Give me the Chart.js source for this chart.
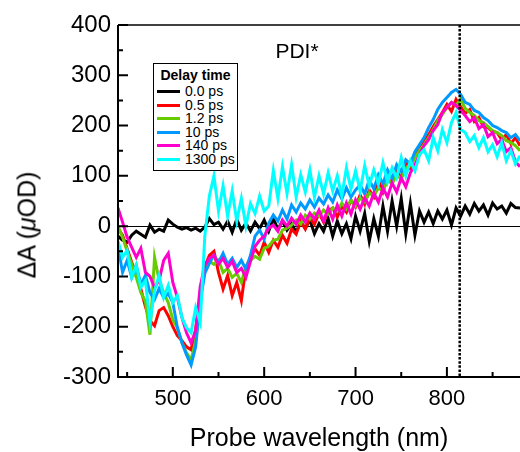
<!DOCTYPE html>
<html><head><meta charset="utf-8">
<script src="https://cdn.jsdelivr.net/npm/chart.js@4.4.0/dist/chart.umd.min.js"></script>
<style>
html,body{margin:0;padding:0;background:#fff;}
#wrap{position:relative;width:520px;height:452px;overflow:hidden;font-family:"Liberation Sans",Arial,Helvetica,sans-serif;color:#000;}
#c{position:absolute;left:0;top:0;}
.ytitle{position:absolute;left:27px;top:225px;transform:translate(-50%,-50%) rotate(-90deg);font-size:25px;white-space:nowrap;}
.xtitle{position:absolute;left:319px;top:437px;transform:translate(-50%,-50%);font-size:25px;white-space:nowrap;}
.ptitle{position:absolute;left:297px;top:51px;transform:translate(-50%,-50%);font-size:21px;white-space:nowrap;}
#legend{position:absolute;left:153px;top:63px;width:83px;height:106px;border:1px solid #000;background:#fff;}
#legend .lt{position:absolute;left:0;top:3px;width:100%;text-align:center;font-weight:bold;font-size:14px;line-height:16px;}
#legend .rows{position:absolute;left:3px;top:21px;}
#legend .row{display:flex;align-items:center;height:13.5px;font-size:14px;line-height:13.5px;}
#legend .sw{display:inline-block;width:23px;height:3px;margin-right:5px;}
</style>
</head><body>
<div id="wrap">
<canvas id="c" width="520" height="452"></canvas>
<div class="ytitle">ΔA (<i>μ</i>OD)</div>
<div class="xtitle">Probe wavelength (nm)</div>
<div class="ptitle">PDI*</div>
<div id="legend"><div class="lt">Delay time</div><div class="rows" id="rows"></div></div>
</div>
<script>
// ---- data ----
const wavelength = [
 440,445,450,455,460,465,470,475,480,485,
 490,495,500,505,510,515,520,525,530,535,
 540,545,550,555,560,565,570,575,580,585,
 590,595,600,605,610,615,620,625,630,635,
 640,645,650,655,660,665,670,675,680,685,
 690,695,700,705,710,715,720,725,730,735,
 740,745,750,755,760,765,770,775,780,785,
 790,795,800,805,810,815,820,825,830,835,
 840,845,850,855,860,865,870,875,880];
const seriesNames = ['0.0 ps','0.5 ps','1.2 ps','10 ps','140 ps','1300 ps'];
const dA_0p0ps = [
 -20,-28,-32,-18,-10,-16,-22,2,-12,-6,
 -10,12,4,-2,-6,-3,-8,-4,-10,-2,
 15,3,8,-6,10,-12,14,-8,6,-10,
 8,-5,12,-10,15,-6,10,-8,5,-12,
 8,-4,12,-15,5,-10,15,-20,10,-15,
 5,-25,20,-10,25,-30,15,-20,40,-10,
 50,0,55,-15,45,-18,30,8,28,5,
 30,14,32,2,36,20,40,24,45,30,
 42,22,46,34,40,26,45,37,36];
const dA_0p5ps = [
 -5,-18,-45,-72,-95,-125,-160,-188,-198,-168,
 -162,-178,-200,-218,-228,-240,-246,-205,-140,-80,
 -58,-50,-92,-125,-98,-138,-112,-148,-82,-62,
 -45,-58,-32,-52,-28,-42,-18,-34,-6,-16,
 10,-6,16,4,26,8,30,36,18,40,
 28,52,38,62,44,72,58,92,68,96,
 84,112,94,128,114,142,152,168,182,198,
 212,226,242,228,252,238,224,232,208,216,
 198,196,188,186,172,182,164,176,160];
const dA_1p2ps = [
 0,-22,-50,-76,-102,-132,-150,-216,-62,-108,
 -132,-152,-186,-202,-232,-252,-266,-228,-138,-86,
 -70,-76,-68,-92,-84,-102,-94,-112,-80,-68,
 -60,-66,-44,-40,-28,-26,-8,-4,2,12,
 4,22,14,26,20,32,24,36,30,46,
 34,52,40,56,48,66,60,76,70,92,
 84,102,94,116,120,136,150,162,176,192,
 210,222,236,246,240,252,234,226,220,210,
 206,198,190,186,180,170,166,160,150];
const dA_10ps = [
 -40,-92,-68,-102,-78,-116,-98,-132,-146,-124,
 -142,-134,-152,-202,-232,-256,-276,-240,-150,-94,
 -74,-58,-72,-54,-76,-64,-82,-68,-86,-58,
 -20,-8,-26,6,22,10,32,14,42,28,
 46,34,52,38,56,44,62,48,72,54,
 76,58,72,82,64,92,74,102,84,112,
 94,122,108,132,124,148,162,176,196,212,
 232,246,256,266,272,262,246,242,230,226,
 216,210,200,196,190,186,176,182,170];
const dA_140ps = [
 36,8,-22,-42,-62,-44,-92,-100,-122,-108,
 -68,-54,-112,-142,-182,-212,-232,-208,-120,-78,
 -64,-58,-76,-64,-82,-70,-92,-84,-102,-70,
 -40,-28,-20,-4,2,-10,12,0,16,4,
 22,8,26,14,32,10,36,14,42,20,
 46,24,52,34,56,40,66,48,76,58,
 86,68,96,78,106,122,142,160,172,190,
 202,226,236,246,240,230,220,208,216,194,
 202,178,186,164,172,148,156,128,118];
const dA_1300ps = [
 -30,-62,-48,-102,-78,-122,-108,-192,-128,-98,
 -142,-118,-152,-138,-182,-202,-212,-162,-192,-20,
 60,100,30,80,20,70,10,55,0,45,
 25,60,30,40,110,55,118,65,122,58,
 102,68,112,58,100,64,106,70,100,60,
 116,74,110,70,120,80,112,84,126,88,
 116,96,136,100,130,110,142,152,130,176,
 150,192,166,206,226,192,186,168,180,156,
 176,148,162,138,166,130,150,124,140];
const xMajorTicks = [500,600,700,800];
const xMinorTicks = [450,550,650,750,850];
const yMajorTicks = [-300,-200,-100,0,100,200,300,400];
const yMinorTicks = [-250,-150,-50,50,150,250,350];
const markerWavelength = 814;

// ---- styles ----
const seriesValues = [dA_0p0ps,dA_0p5ps,dA_1p2ps,dA_10ps,dA_140ps,dA_1300ps];
const seriesColors = ['#000000','#ff0000','#66cc00','#0099ff','#ff00cc','#00ffff'];
const FONT = '"Liberation Sans", Arial, Helvetica, sans-serif';

// legend (HTML)
const rows = document.getElementById('rows');
seriesNames.forEach((n,i)=>{
  const r = document.createElement('div'); r.className='row';
  const s = document.createElement('span'); s.className='sw'; s.style.background=seriesColors[i];
  const t = document.createElement('span'); t.textContent=n;
  r.appendChild(s); r.appendChild(t); rows.appendChild(r);
});

const datasets = seriesNames.map((n,i)=>({
  label:n,
  data: wavelength.map((w,k)=>({x:w,y:seriesValues[i][k]})),
  borderColor: seriesColors[i],
  backgroundColor: seriesColors[i],
  borderWidth: 3,
  pointRadius: 0,
  tension: 0,
  fill: false,
  order: seriesNames.length - 1 - i
}));

const axesPlugin = {
  id:'axesFrame',
  beforeDatasetsDraw(chart){
    const {ctx, chartArea:a, scales:{y}} = chart;
    const y0 = Math.round(y.getPixelForValue(0)) + 0.5;
    ctx.save(); ctx.strokeStyle='#000'; ctx.lineWidth=1;
    ctx.beginPath(); ctx.moveTo(a.left,y0); ctx.lineTo(a.right,y0); ctx.stroke();
    ctx.restore();
  },
  afterDatasetsDraw(chart){
    const {ctx, chartArea:a, scales:{x,y}} = chart;
    ctx.save();
    ctx.strokeStyle='#000';
    const xm = x.getPixelForValue(markerWavelength);
    ctx.lineWidth=2.5; ctx.setLineDash([2.5,1.6]);
    ctx.beginPath(); ctx.moveTo(xm,a.top); ctx.lineTo(xm,a.bottom); ctx.stroke();
    ctx.setLineDash([]);
    ctx.lineWidth=2;
    ctx.beginPath();
    ctx.moveTo(a.left,a.top); ctx.lineTo(a.left,a.bottom); ctx.lineTo(a.right,a.bottom);
    ctx.stroke();
    ctx.lineWidth=1.5;
    ctx.beginPath(); ctx.moveTo(a.left,a.top); ctx.lineTo(a.right,a.top); ctx.stroke();
    ctx.lineWidth=2;
    ctx.beginPath();
    xMajorTicks.forEach(v=>{const p=x.getPixelForValue(v); ctx.moveTo(p,a.bottom); ctx.lineTo(p,a.bottom-10);});
    xMinorTicks.forEach(v=>{const p=x.getPixelForValue(v); ctx.moveTo(p,a.bottom); ctx.lineTo(p,a.bottom-5);});
    yMajorTicks.forEach(v=>{const p=y.getPixelForValue(v); ctx.moveTo(a.left,p); ctx.lineTo(a.left+10,p);});
    yMinorTicks.forEach(v=>{const p=y.getPixelForValue(v); ctx.moveTo(a.left,p); ctx.lineTo(a.left+5,p);});
    ctx.stroke();
    ctx.restore();
  }
};

new Chart(document.getElementById('c'), {
  type:'line',
  data:{datasets},
  options:{
    responsive:false, animation:false, devicePixelRatio:1,
    layout:{padding:{top:25,right:0,left:0,bottom:0}},
    plugins:{legend:{display:false}, tooltip:{enabled:false}},
    scales:{
      x:{type:'linear', min:440, max:880,
         grid:{display:false, drawTicks:false}, border:{display:false},
         ticks:{font:{family:FONT,size:22}, color:'#000', padding:9, maxRotation:0, autoSkip:false},
         afterBuildTicks:s=>{s.ticks = xMajorTicks.map(v=>({value:v}));},
         afterFit:s=>{s.height=75;}},
      y:{type:'linear', min:-300, max:400,
         grid:{display:false, drawTicks:false}, border:{display:false},
         ticks:{font:{family:FONT,size:24}, color:'#000', padding:7, autoSkip:false},
         afterBuildTicks:s=>{s.ticks = yMajorTicks.map(v=>({value:v}));},
         afterFit:s=>{s.height; s.width=118;}}
    }
  },
  plugins:[axesPlugin]
});
</script>
</body></html>
